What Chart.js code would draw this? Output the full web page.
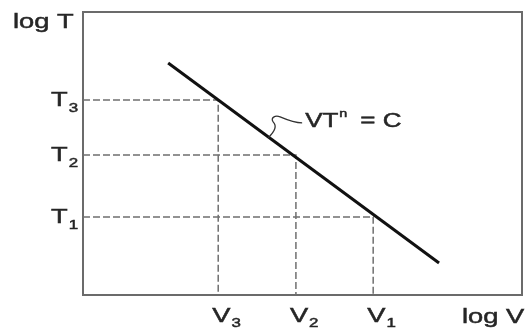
<!DOCTYPE html>
<html>
<head>
<meta charset="utf-8">
<script src="https://cdn.jsdelivr.net/npm/chart.js@4"></script>
<style>
  body { margin: 0; background: #fff; }
</style>
</head>
<body>
<canvas id="tool_chart" width="531" height="332"></canvas>
<script>
// values (axis units 0..10, both axes)
const lineX = [1.94, 8.11];          // log V at the ends of VT^n = C
const lineY = [8.20, 1.13];          // log T at the ends
const vValues = [3.08, 4.85, 6.61];  // V3, V2, V1
const tValues = [6.89, 4.95, 2.76];  // T3, T2, T1
const tickSubs = ['3', '2', '1'];
const notePos = { x: 5.06, y: 5.94 };

const FONT = '"Liberation Sans", Arial, sans-serif';
const SX = 1.3; // the picture's text is stretched sideways

const mainLine = lineX.map((x, i) => ({ x: x, y: lineY[i] }));

// dashed guides: from the T axis over to the line and down to the V axis
const guides = vValues.map((v, i) => ({
  data: [{ x: 0, y: tValues[i] }, { x: v, y: tValues[i] }, { x: v, y: 0 }],
  showLine: true,
  borderColor: '#6f6f6f',
  borderWidth: 1.5,
  borderDash: [7, 3],
  pointRadius: 0,
  fill: false
}));

function txt(ctx, str, x, y, size) {
  ctx.save();
  ctx.font = size + 'px ' + FONT;
  ctx.textAlign = 'left';
  ctx.textBaseline = 'alphabetic';
  const w = ctx.measureText(str).width * SX;
  ctx.translate(x, y);
  ctx.scale(SX, 1);
  ctx.fillText(str, 0, 0);
  ctx.lineWidth = 0.5;
  ctx.strokeText(str, 0, 0); // a touch heavier, like the blurry original
  ctx.restore();
  return w;
}

const drawExtras = {
  id: 'drawExtras',
  beforeDatasetsDraw(chart) {
    const { ctx, chartArea } = chart;
    ctx.save();
    ctx.strokeStyle = '#6b6b6b';
    ctx.lineWidth = 2;
    ctx.strokeRect(chartArea.left, chartArea.top,
      chartArea.right - chartArea.left, chartArea.bottom - chartArea.top);
    ctx.restore();
  },
  afterDraw(chart) {
    const { ctx } = chart;
    const xs = chart.scales.x, ys = chart.scales.y;
    ctx.save();
    ctx.fillStyle = '#262626';
    ctx.strokeStyle = '#262626';

    // axis names
    txt(ctx, 'log T', 13, 28, 21);
    txt(ctx, 'log V', 462, 323, 21);

    // T ticks
    tValues.forEach((t, i) => {
      const py = ys.getPixelForValue(t);
      const w = txt(ctx, 'T', 51, py + 6, 21);
      txt(ctx, tickSubs[i], 51 + w + 1, py + 12, 13);
    });

    // V ticks
    vValues.forEach((v, i) => {
      const px = xs.getPixelForValue(v);
      const w = txt(ctx, 'V', px - 6, 322, 21);
      txt(ctx, tickSubs[i], px - 6 + w + 1, 327, 13);
    });

    // VT^n = C label with its little squiggle down to the line
    const nx = xs.getPixelForValue(notePos.x);
    const ny = ys.getPixelForValue(notePos.y);
    let w = txt(ctx, 'VT', nx, ny, 20);
    txt(ctx, 'n', nx + w + 1, ny - 10, 11);
    txt(ctx, '= C', nx + w + 22, ny, 20);

    ctx.strokeStyle = '#333';
    ctx.lineWidth = 1.3;
    ctx.beginPath();
    ctx.moveTo(nx - 37, ny + 11);
    ctx.bezierCurveTo(nx - 30, ny + 4, nx - 28, ny - 1, nx - 32, ny - 5);
    ctx.bezierCurveTo(nx - 35, ny - 9, nx - 30, ny - 12, nx - 25, ny - 10);
    ctx.bezierCurveTo(nx - 18, ny - 7, nx - 10, ny - 4, nx - 3, ny - 4);
    ctx.stroke();
    ctx.restore();
  }
};

const ctx1 = document.getElementById('tool_chart').getContext('2d');
const chart1 = new Chart(ctx1, {
  type: 'scatter',
  data: {
    datasets: [{
      data: mainLine,
      showLine: true,
      borderColor: '#111',
      borderWidth: 3,
      pointRadius: 0,
      fill: false
    }].concat(guides)
  },
  options: {
    responsive: false,
    animation: false,
    layout: { padding: { left: 83, top: 12, right: 9, bottom: 37 } },
    plugins: { legend: { display: false }, tooltip: { enabled: false } },
    scales: {
      x: { type: 'linear', min: 0, max: 10, display: false },
      y: { type: 'linear', min: 0, max: 10, display: false }
    }
  },
  plugins: [drawExtras]
});
</script>
</body>
</html>
